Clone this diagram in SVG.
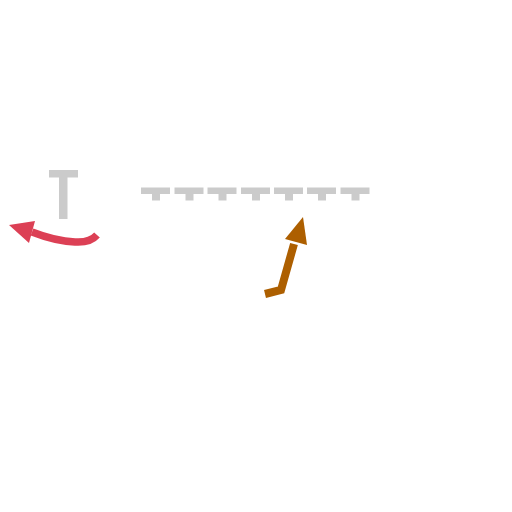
<svg xmlns="http://www.w3.org/2000/svg" width="512" height="512" viewBox="0 0 512 512">
<style>
.g{fill:#cbcbcb}
</style>
<defs>
<g id="t"><rect class="g" x="0" y="0" width="29" height="6.5"/><rect class="g" x="11" y="5" width="8" height="8"/></g>
</defs>
<rect width="512" height="512" fill="#fff"/>
<g id="bigT"><rect class="g" x="49" y="170" width="29" height="7.5"/><rect class="g" x="59" y="176" width="8.5" height="43"/></g>
<g id="row">
<use href="#t" x="141" y="187.5"/><use href="#t" x="174.5" y="187.5"/><use href="#t" x="207.5" y="187.5"/><use href="#t" x="241" y="187.5"/><use href="#t" x="274" y="187.5"/><use href="#t" x="307" y="187.5"/><use href="#t" x="340.5" y="187.5"/>
</g>
<g id="connectors">
<g id="redArrow">
<path d="M97,235 Q90,243 75,242 Q55,241 32,232" fill="none" stroke="#dc4055" stroke-width="7.5"/>
<polygon points="9,225 35,221 29,243" fill="#dc4055"/>
</g>
<g id="brownArrow">
<polyline points="265,294 281,290 294,244" fill="none" stroke="#ad5f00" stroke-width="8"/>
<polygon points="303,217 285,239 307,245" fill="#ad5f00"/>
</g>
</g>
</svg>
